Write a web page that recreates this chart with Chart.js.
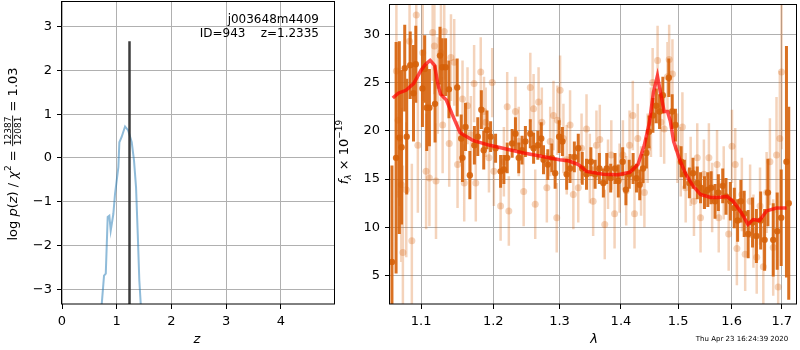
<!DOCTYPE html>
<html>
<head>
<meta charset="utf-8">
<script src="https://cdn.jsdelivr.net/npm/chart.js@4.4.0/dist/chart.umd.min.js"></script>
<style>
  body { margin: 0; background: #fff; width: 800px; height: 350px; position: relative; overflow: hidden; }
  #pz { position: absolute; left: 0; top: 0; }
  #sp { position: absolute; left: 330px; top: 0; }
</style>
</head>
<body>
<canvas id="pz" width="340" height="350"></canvas>
<canvas id="sp" width="470" height="350"></canvas>
<script>
// ---- left panel: log p(z)
const zGrid = [0.715, 0.726, 0.768, 0.80, 0.835, 0.865, 0.89, 0.938, 0.969, 1.03, 1.048, 1.09, 1.152, 1.21, 1.274, 1.316, 1.353, 1.384, 1.413, 1.439, 1.45];
const logPz = [-3.5, -3.34, -2.69, -2.64, -1.35, -1.32, -1.66, -1.28, -0.82, -0.21, 0.36, 0.48, 0.72, 0.63, 0.36, -0.06, -0.67, -1.73, -2.80, -3.34, -3.7];
const zBest = 1.2335;
const zBestTop = 2.67;
const zTicks = [0, 1, 2, 3, 4];
const pzTicks = [-3, -2, -1, 0, 1, 2, 3];

// ---- right panel: spectrum
const waveTicks = [1.1, 1.2, 1.3, 1.4, 1.5, 1.6, 1.7];
const fluxTicks = [5, 10, 15, 20, 25, 30];

// binned (dark) points
const darkWave = [1.0619,1.0672,1.0714,1.0743,1.0784,1.0810,1.0856,1.0899,1.0929,1.1017,1.1047,1.1074,1.1110,1.1186,1.1253,1.1284,1.1329,1.1375,1.1489,1.1545,1.1562,1.1605,1.1666,1.1730,1.1778,1.1829,1.1863,1.1910,
  1.1962,1.2034,1.2107,1.2155,1.2204,1.2277,1.2326,1.2375,1.2425,1.2475,1.2549,1.2599,1.2664,1.2716,1.2751,1.2817,1.2879,1.2931,1.2993,1.3045,1.3112,1.3166,1.3234,1.3297,1.3361,1.3430,1.3501,
  1.3570,1.3640,1.3706,1.3762,1.3828,1.3900,1.3955,1.4029,1.4084,1.4140,1.4207,1.4265,1.4321,1.4378,1.4437,1.4482,1.4551,1.4610,1.4668,1.4726,1.4833,1.4893,1.4952,1.5055,1.5114,1.5205,
  1.5272,1.5351,1.5412,1.5486,1.5548,1.5610,1.5684,1.5747,1.5830,1.5893,1.5976,1.6053,1.6117,1.6181,1.6246,1.6324,1.6410,1.6487,1.6572,1.6651,1.6718,1.6825,1.6906,1.6988,1.7096,1.7143];
const darkFlux = [6.4,17.2,19.3,18.3,26.5,19.4,26.8,23.9,26.9,24.4,26.4,22.4,22.4,22.8,27.8,26.6,26.6,24.3,24.5,19.2,17.2,20.4,15.4,18.5,19.4,22.2,18.0,20.1,
  19.4,18.2,15.8,16.0,17.2,18.7,19.7,17.2,18.0,18.9,19.7,18.2,18.5,19.2,17.0,16.5,17.2,15.6,19.4,18.9,15.5,16.1,17.3,18.2,16.1,15.5,16.8,
  15.5,16.1,14.6,16.1,15.1,16.1,14.8,16.8,13.9,15.5,16.1,15.1,14.4,16.1,17.7,19.9,21.6,22.6,22.0,23.7,25.5,22.0,20.6,16.8,15.5,14.6,
  15.6,14.6,14.1,13.6,13.9,14.1,12.7,13.6,14.3,13.2,12.7,12.0,10.7,12.7,11.4,9.3,10.5,9.1,10.7,8.7,13.6,8.7,9.6,11.0,16.8,12.5];
const darkErr = [10,12,10,8,4.5,6,3.5,5,4,4,3.5,4.5,4,4,3,3,3,3,3,2.5,2.5,2.5,2.5,2,2,2,2,2,
  1.6,1.5,1.7,1.5,1.6,1.5,1.7,1.6,1.5,1.6,1.5,1.6,1.5,1.7,1.5,1.6,1.5,1.6,1.7,1.5,1.6,1.5,1.6,1.5,1.7,1.6,1.5,
  1.5,1.6,1.5,1.6,1.5,1.6,1.7,1.5,1.6,1.5,1.6,1.5,1.6,1.5,1.6,1.7,1.8,1.8,1.8,1.9,2.0,1.8,1.7,1.6,1.5,1.6,
  1.6,1.7,1.6,1.7,1.8,1.7,1.8,1.9,1.8,1.9,2.0,2.1,2.2,2.2,2.4,2.5,2.6,2.8,3.0,3.2,3.5,3.8,4.0,5.0,12,10];

// unbinned (light) points
const lightWave = [1.0676,1.0697,1.0718,1.0740,1.0760,1.0804,1.0847,1.0877,1.0935,1.0956,
  1.1021,1.1066,1.1110,1.1154,1.1177,1.1199,1.1221,1.1266,1.1289,1.1311,
  1.1379,1.1403,1.1448,1.1494,1.1563,1.1587,1.1633,1.1680,1.1726,1.1750,
  1.1820,1.1867,1.1891,1.1938,1.1985,1.2009,1.2107,1.2155,1.2204,1.2228,
  1.2326,1.2375,1.2449,1.2549,1.2599,1.2624,1.2675,1.2725,1.2802,1.2854,
  1.2905,1.2956,1.2967,1.3009,1.3061,1.3113,1.3166,1.3218,1.3297,1.3350,
  1.3430,1.3484,1.3538,1.3592,1.3647,1.3729,1.3783,1.3838,1.3893,1.3977,
  1.4033,1.4089,1.4146,1.4202,1.4231,1.4287,1.4344,1.4402,1.4459,1.4516,
  1.4546,1.4633,1.4691,1.4750,1.4809,1.4839,1.4898,1.4988,1.5048,1.5078,
  1.5138,1.5229,1.5290,1.5351,1.5412,1.5474,1.5568,1.5629,1.5722,1.5754,
  1.5849,1.5944,1.6008,1.6071,1.6103,1.6200,1.6265,1.6362,1.6428,1.6493,
  1.6559,1.6625,1.6691,1.6758,1.6825,1.6892,1.6926,1.6960,1.6994];
const lightFlux = [26.2,21.1,19.2,14.4,7.4,13.9,29.3,8.6,32.0,18.5,
  28.1,15.8,15.1,30.2,28.8,14.8,24.7,28.1,20.6,30.3,
  18.7,27.6,27.1,16.5,23.3,14.6,22.6,19.6,24.9,14.6,
  26.1,22.0,20.9,17.2,25.0,15.8,12.2,16.8,22.5,11.7,
  22.0,18.9,13.7,24.5,22.3,12.4,23.0,20.9,14.1,18.9,
  21.6,11.0,21.1,24.2,19.2,17.0,20.6,13.4,14.1,18.2,
  20.2,16.1,12.7,18.5,19.1,10.3,15.5,17.5,11.4,15.1,
  17.5,13.8,18.5,21.6,11.4,19.2,14.8,13.6,18.2,20.9,
  25.0,27.3,20.9,20.2,25.6,27.4,25.9,18.2,16.8,20.4,
  14.1,15.8,12.7,17.2,11.0,15.5,17.2,13.1,16.5,11.0,
  14.6,9.3,18.4,16.5,7.8,13.4,7.2,12.7,9.6,6.9,
  12.2,5.9,13.6,16.8,7.9,17.5,3.8,19.2,26.1];
const lightErr = [7,8,7,8,9,7,6,8,6,7,
  5,6,5,5,5,6,5,5,5,5,
  4.5,4.5,4.5,4.5,4,4,4,4,4,4,
  3.6,3.6,3.6,3.6,3.6,3.6,3.6,3.6,3.6,3.6,
  3.6,3.6,3.6,3.6,3.6,3.6,3.6,3.6,3.6,3.6,
  3.6,3.6,3.6,3.6,3.6,3.6,3.6,3.6,3.6,3.6,
  3.6,3.6,3.6,3.6,3.6,3.6,3.6,3.6,3.6,3.6,
  3.6,3.6,3.6,3.6,3.6,3.6,3.6,3.6,3.6,3.6,
  3.6,3.6,3.6,3.6,3.6,3.6,3.6,3.6,3.6,3.6,
  3.6,3.6,3.6,3.6,3.6,3.6,3.6,3.6,3.6,3.6,
  3.8,3.8,3.8,3.8,3.8,3.8,3.8,3.8,3.8,3.8,
  4,4.2,4.2,4.5,5,6,6,7,8];

// model
const modelWave = [1.063,1.070,1.080,1.090,1.100,1.106,1.112,1.118,1.122,1.126,1.134,1.142,1.153,1.171,1.195,1.245,1.300,1.314,1.330,1.343,1.370,1.395,1.415,1.429,1.440,1.449,1.456,1.463,1.469,1.475,1.481,1.486,1.492,1.503,1.514,1.527,1.541,1.560,1.575,1.591,1.603,1.618,1.632,1.642,1.655,1.669,1.689,1.710];
const modelFlux = [23.4,23.9,24.2,24.9,26.3,26.9,27.3,26.8,25.0,23.8,23.2,21.7,19.8,19.0,18.5,17.7,17.0,16.9,16.5,15.8,15.5,15.45,15.7,16.5,18.5,20.9,24.0,25.7,23.8,22.0,22.0,21.0,18.9,17.0,15.5,14.3,13.4,13.1,13.1,13.2,12.7,11.6,10.3,10.8,10.7,11.7,12.0,12.0];

const FONT = '"DejaVu Sans", sans-serif';
Chart.defaults.font.family = FONT;
Chart.defaults.font.size = 13;
Chart.defaults.color = '#000';

const darkCol = 'rgba(214,98,10,0.9)';
const lightCol = 'rgba(214,98,10,0.28)';

function pts(xs, ys) { return xs.map((x, i) => ({ x: x, y: ys[i] })); }
function bars(xs, ys, es) {
  const out = [];
  xs.forEach((x, i) => {
    out.push({ x: x, y: ys[i] - es[i] }, { x: x, y: ys[i] + es[i] }, { x: x, y: null });
  });
  return out;
}

function axis(min, max, ticks, fmt, size, isX) {
  return {
    type: 'linear', min: min, max: max,
    afterBuildTicks: s => { s.ticks = ticks.map(v => ({ value: v })); },
    afterFit: s => {
      if (isX) s.height = size; else s.width = size;
      s.paddingTop = 0; s.paddingBottom = 0; s.paddingLeft = 0; s.paddingRight = 0;
    },
    grid: { color: '#b0b0b0', lineWidth: 1, tickLength: 5, tickColor: '#000' },
    border: { display: false },
    ticks: { autoSkip: false, maxRotation: 0, padding: 5, callback: fmt, font: { size: 13 } }
  };
}

// full black frame round the plot area
const frame = {
  id: 'frame',
  afterDatasetsDraw(chart) {
    const a = chart.chartArea, c = chart.ctx;
    c.save();
    c.strokeStyle = '#000';
    c.lineWidth = 1;
    c.strokeRect(Math.round(a.left) - 0.5, Math.round(a.top) + 0.5, Math.round(a.right - a.left) + 1, Math.round(a.bottom - a.top) - 0.5);
    c.restore();
  }
};

function rich(c, pieces, x, y) {
  pieces.forEach(p => {
    c.font = p[1];
    c.fillText(p[0], x, y + (p[2] || 0));
    x += c.measureText(p[0]).width;
  });
  return x;
}
function richWidth(c, pieces) {
  let w = 0;
  pieces.forEach(p => { c.font = p[1]; w += c.measureText(p[0]).width; });
  return w;
}

const n13 = '13px ' + FONT, i13 = 'italic 13px ' + FONT, s9 = '9px ' + FONT, is9 = 'italic 9px ' + FONT;

const pzText = {
  id: 'pzText',
  afterDraw(chart) {
    const c = chart.ctx;
    c.save();
    c.fillStyle = '#000';
    c.textBaseline = 'middle';
    c.textAlign = 'right';
    c.font = '12px ' + FONT;
    c.fillText('j003648m4409', 319, 20);
    c.fillText('ID=943    z=1.2335', 319, 34);
    c.textAlign = 'center';
    c.font = i13;
    c.fillText('z', 197, 340);
    // rotated y label with fraction
    c.translate(17, 154);
    c.rotate(-Math.PI / 2);
    c.textAlign = 'left';
    c.textBaseline = 'alphabetic';
    const pre = [['log ', n13], ['p', i13], ['(', n13], ['z', i13], [') / ', n13], ['χ', i13], ['2', s9, -6], [' = ', n13]];
    const post = [[' = 1.03', n13]];
    c.font = s9;
    const fw = Math.max(c.measureText('12387').width, c.measureText('12081').width) + 2;
    const total = richWidth(c, pre) + fw + richWidth(c, post);
    let x = rich(c, pre, -total / 2, 0);
    c.font = s9;
    c.textAlign = 'center';
    c.fillText('12387', x + fw / 2, -6);
    c.fillText('12081', x + fw / 2, 4);
    c.fillRect(x, -4.8, fw, 0.9);
    c.textAlign = 'left';
    rich(c, post, x + fw, 0);
    c.restore();
  }
};

const spText = {
  id: 'spText',
  afterDraw(chart) {
    const c = chart.ctx;
    c.save();
    c.fillStyle = '#000';
    c.textAlign = 'center';
    c.textBaseline = 'middle';
    c.font = i13;
    c.fillText('λ', 264, 340);
    c.font = '7px ' + FONT;
    c.fillText('Thu Apr 23 16:24:39 2020', 412, 339);
    c.translate(18, 152);
    c.rotate(-Math.PI / 2);
    c.textAlign = 'left';
    c.textBaseline = 'alphabetic';
    const lab = [['f', i13], ['λ', is9, 3], [' × 10', n13], ['−19', s9, -6]];
    rich(c, lab, -richWidth(c, lab) / 2, 0);
    c.restore();
  }
};

new Chart(document.getElementById('pz'), {
  type: 'scatter',
  data: {
    datasets: [
      { data: [{ x: zBest, y: -4 }, { x: zBest, y: zBestTop }], showLine: true, pointRadius: 0,
        borderColor: 'rgba(40,40,40,0.9)', borderWidth: 2.5, order: 0 },
      { data: pts(zGrid, logPz), showLine: true, pointRadius: 0,
        borderColor: 'rgba(31,119,180,0.5)', borderWidth: 2, order: 1 }
    ]
  },
  options: {
    responsive: false, animation: false,
    layout: { padding: { top: 1, right: 6, left: 0, bottom: 0 } },
    plugins: { legend: { display: false }, tooltip: { enabled: false } },
    scales: {
      x: axis(0, 4.97, zTicks, v => String(v), 46, true),
      y: axis(-3.336, 3.587, pzTicks, v => v < 0 ? '\u2212' + (-v) : String(v), 62, false)
    }
  },
  plugins: [frame, pzText]
});

const xLog = axis(1.0594, 1.7294, waveTicks, v => v.toFixed(1), 46, true);
xLog.type = 'logarithmic';

new Chart(document.getElementById('sp'), {
  type: 'scatter',
  data: {
    datasets: [
      { data: pts(modelWave, modelFlux), showLine: true, pointRadius: 0,
        borderColor: 'rgba(255,0,0,0.7)', borderWidth: 3.5, order: 0 },
      { data: pts(darkWave, darkFlux), pointRadius: 3.2, backgroundColor: darkCol, borderWidth: 0, order: 1 },
      { data: bars(darkWave, darkFlux, darkErr), showLine: true, spanGaps: false, pointRadius: 0,
        borderColor: darkCol, borderWidth: 3, order: 2 },
      { data: pts(lightWave, lightFlux), pointRadius: 3.5, backgroundColor: lightCol, borderWidth: 0, order: 3 },
      { data: bars(lightWave, lightFlux, lightErr), showLine: true, spanGaps: false, pointRadius: 0,
        borderColor: lightCol, borderWidth: 2.5, order: 4 }
    ]
  },
  options: {
    responsive: false, animation: false,
    layout: { padding: { top: 1, right: 2, left: 0, bottom: 0 } },
    plugins: { legend: { display: false }, tooltip: { enabled: false } },
    scales: {
      x: xLog,
      y: axis(2.05, 33.15, fluxTicks, v => String(v), 60, false)
    }
  },
  plugins: [frame, spText]
});
</script>
</body>
</html>
